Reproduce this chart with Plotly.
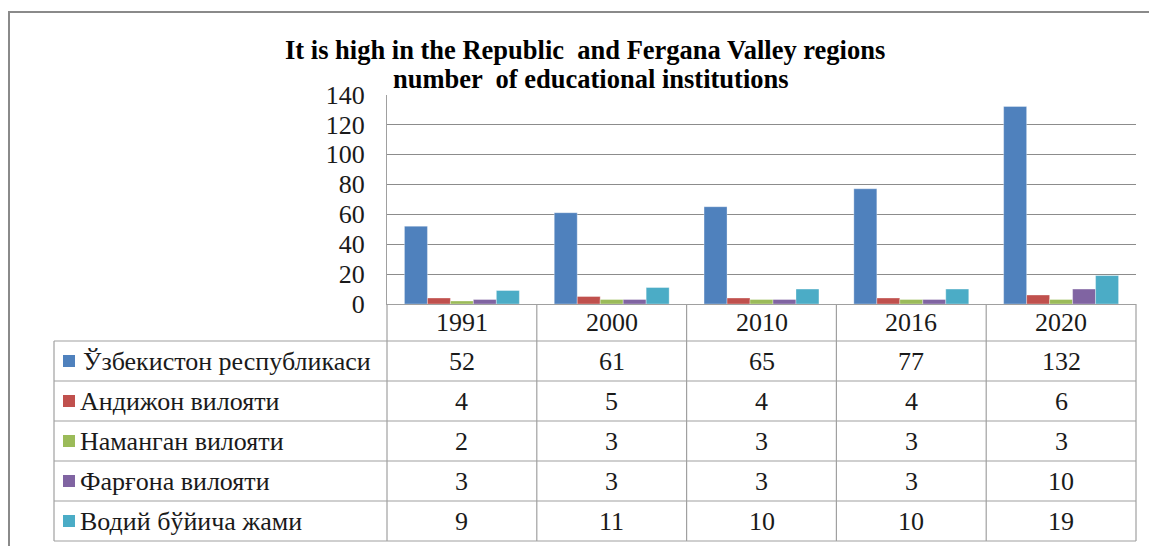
import plotly.graph_objects as go

# ---------------- data ----------------
years = ["1991", "2000", "2010", "2016", "2020"]
series_names = [
    "Ўзбекистон республикаси",
    "Андижон вилояти",
    "Наманган вилояти",
    "Фарғона вилояти",
    "Водий бўйича жами",
]
uzbekistan = [52, 61, 65, 77, 132]
andijan = [4, 5, 4, 4, 6]
namangan = [2, 3, 3, 3, 3]
fergana = [3, 3, 3, 3, 10]
valley_total = [9, 11, 10, 10, 19]
series_values = [uzbekistan, andijan, namangan, fergana, valley_total]
colors = ["#4F81BD", "#C0504D", "#9BBB59", "#8064A2", "#4BACC6"]
y_ticks = [0, 20, 40, 60, 80, 100, 120, 140]
title_lines = [
    "It is high in the Republic  and Fergana Valley regions",
    "number  of educational institutions",
]

# ---------------- layout constants (pixels) ----------------
W, H = 1149, 546
PL, PR = 387, 1136        # plot area left/right
PT, PB = 94.5, 304        # plot area top/bottom (140 / 0)
HEADER_B = 341            # bottom of year header row
ROW_H = 40
TABLE_L = 54
FONT = "Liberation Serif, Times New Roman, serif"
FS = 26
GRID = "#8c8c8c"
TLINE = "#a0a0a0"
TXT = "#1a1a1a"


def px(x):
    return x / W


def py(y):
    return 1 - y / H


fig = go.Figure()
for name, vals, col in zip(series_names, series_values, colors):
    fig.add_trace(go.Bar(
        x=years, y=vals, name=name,
        marker=dict(color=col, line=dict(color="rgba(255,255,255,0.55)", width=0.6)),
        showlegend=False,
    ))

shapes = []
annotations = []
n_rows = len(series_names)
table_bottom = HEADER_B + n_rows * ROW_H

# outer frame
shapes.append(dict(type="rect", xref="paper", yref="paper",
                   x0=px(9), x1=px(W + 20), y0=py(12), y1=py(H + 20),
                   line=dict(color="#8a8a8a", width=2), fillcolor="rgba(0,0,0,0)"))

# vertical table lines on category boundaries
for k in range(len(years) + 1):
    shapes.append(dict(type="line", xref="x domain", yref="paper",
                       x0=k / len(years), x1=k / len(years),
                       y0=py(PB), y1=py(table_bottom),
                       line=dict(color=TLINE, width=1.2)))
# left legend column vertical line
shapes.append(dict(type="line", xref="paper", yref="paper",
                   x0=px(TABLE_L), x1=px(TABLE_L),
                   y0=py(HEADER_B), y1=py(table_bottom),
                   line=dict(color=TLINE, width=1.2)))
# horizontal table lines
for r in range(n_rows + 1):
    yy = HEADER_B + r * ROW_H
    shapes.append(dict(type="line", xref="paper", yref="paper",
                       x0=px(TABLE_L), x1=px(PR), y0=py(yy), y1=py(yy),
                       line=dict(color=TLINE, width=1.2)))

# header years (category index positions on the x axis)
for i, yr in enumerate(years):
    annotations.append(dict(x=i, xref="x", y=py((PB + HEADER_B) / 2), yref="paper",
                            text=yr, showarrow=False, xanchor="center", yanchor="middle",
                            font=dict(family=FONT, size=FS, color=TXT)))

# rows: legend key + label + values
for r, (name, vals, col) in enumerate(zip(series_names, series_values, colors)):
    yc = HEADER_B + (r + 0.5) * ROW_H
    shapes.append(dict(type="rect", xref="paper", yref="paper",
                       x0=px(63), x1=px(75), y0=py(yc + 6), y1=py(yc - 6),
                       line=dict(width=0), fillcolor=col))
    annotations.append(dict(x=px(78 if r else 81), xref="paper", y=py(yc), yref="paper",
                            text=name, showarrow=False, xanchor="left", yanchor="middle",
                            font=dict(family=FONT, size=FS, color=TXT)))
    for i, v in enumerate(vals):
        annotations.append(dict(x=i, xref="x", y=py(yc), yref="paper",
                                text=str(v), showarrow=False, xanchor="center", yanchor="middle",
                                font=dict(family=FONT, size=FS, color=TXT)))

# title
title_x = [585, 591]
title_y = [49.5, 79]
for line, tx, ty in zip(title_lines, title_x, title_y):
    annotations.append(dict(x=px(tx), xref="paper", y=py(ty), yref="paper",
                            text="<b>" + line + "</b>", showarrow=False,
                            xanchor="center", yanchor="middle",
                            font=dict(family=FONT, size=26.5, color="#000000")))

fig.update_layout(
    width=W, height=H,
    margin=dict(l=0, r=0, t=0, b=0, pad=0, autoexpand=False),
    paper_bgcolor="white", plot_bgcolor="white",
    barmode="group", bargap=0.233, bargroupgap=0,
    xaxis=dict(type="category", domain=[px(PL), px(PR)], range=[-0.5, len(years) - 0.5],
               showticklabels=False, showgrid=False, automargin=False,
               showline=True, linecolor=TLINE, linewidth=1.2, ticks="",
               zeroline=False, fixedrange=True),
    yaxis=dict(domain=[py(PB), py(PT)], range=[0, 140], tickvals=y_ticks,
               showgrid=True, gridcolor=GRID, gridwidth=1, automargin=False,
               showline=True, linecolor=TLINE, linewidth=1.2,
               zeroline=False, ticks="", ticklabelstandoff=16,
               tickfont=dict(family=FONT, size=FS, color=TXT)),
    shapes=shapes,
    annotations=annotations,
    showlegend=False,
)

post = ("document.documentElement.style.margin='0';document.body.style.margin='0';"
        "document.documentElement.style.overflow='hidden';document.body.style.overflow='hidden';"
        "var d=document.getElementById('{plot_id}');d.style.position='absolute';"
        "d.style.left='0px';d.style.top='0px';")
fig.write_html("out.html", post_script=post,
               config={"displayModeBar": False, "responsive": False})
